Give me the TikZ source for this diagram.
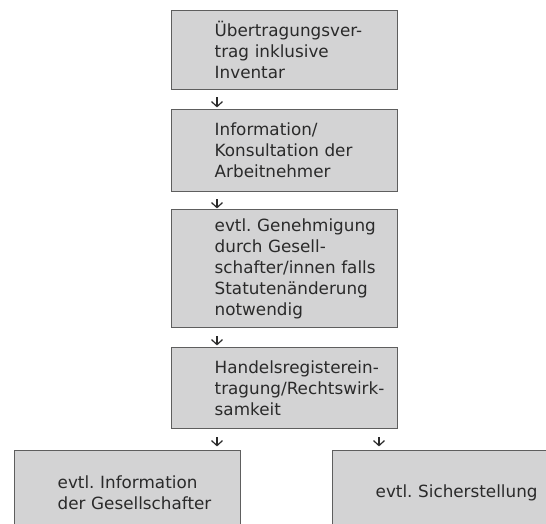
\documentclass[tikz,border=0pt]{standalone}
\usepackage{fontspec}
\setmainfont{DejaVu Sans}
\usetikzlibrary{calc,arrows.meta}
\frenchspacing
\definecolor{boxfill}{HTML}{D3D3D4}
\definecolor{boxline}{HTML}{5E5E5E}
\definecolor{txt}{HTML}{2A2A2A}
\tikzset{
  stepbox/.style={draw=boxline, line width=1.4pt, fill=boxfill, anchor=north west,
    text width=226pt, minimum width=226pt, inner xsep=0pt, inner ysep=0pt,
    align=left, text=txt, font=\fontsize{16.8}{21}\selectfont,
    execute at begin node={\leftskip=43pt\relax}},
  arr/.style={draw=txt, line width=1.2pt, -{Straight Barb[length=5pt,width=11pt]}}
}
\begin{document}
\begin{tikzpicture}[x=1pt,y=-1pt]
\useasboundingbox (0,0) rectangle (546,523);
\clip (0,0) rectangle (546,523);
\node[stepbox, minimum height=79pt] (b1) at (171,10) {Übertragungsver-\\trag inklusive\\Inventar};
\node[stepbox, minimum height=82pt] (b2) at (171,109) {Information/\\Konsultation der\\Arbeitnehmer};
\node[stepbox, minimum height=118pt] (b3) at (171,209) {evtl. Genehmigung\\durch Gesell-\\schafter/innen falls\\Statutenänderung\\notwendig};
\node[stepbox, minimum height=81pt] (b4) at (171,347) {Handelsregisterein-\\tragung/Rechtswirk-\\samkeit};
\node[stepbox, minimum height=84pt] (b5) at (14,450) {evtl. Information\\der Gesellschafter};
\node[stepbox, minimum height=84pt, text width=240pt, minimum width=240pt] (b6) at (332,450) {evtl. Sicherstellung};
\coordinate (a1s) at ($(b1.south west)+(46,7)$);
\coordinate (a1e) at ($(b1.south west)+(46,17)$);
\coordinate (a2s) at ($(b2.south west)+(46,7)$);
\coordinate (a2e) at ($(b2.south west)+(46,16)$);
\coordinate (a3s) at ($(b3.south west)+(46,8)$);
\coordinate (a3e) at ($(b3.south west)+(46,17)$);
\coordinate (a4s) at ($(b4.south west)+(46,8)$);
\coordinate (a4e) at ($(b4.south west)+(46,17)$);
\coordinate (a5s) at ($(b4.south west)+(208,8)$);
\coordinate (a5e) at ($(b4.south west)+(208,17)$);
\draw[arr] (a1s) -- (a1e);
\draw[arr] (a2s) -- (a2e);
\draw[arr] (a3s) -- (a3e);
\draw[arr] (a4s) -- (a4e);
\draw[arr] (a5s) -- (a5e);
\end{tikzpicture}
\end{document}
